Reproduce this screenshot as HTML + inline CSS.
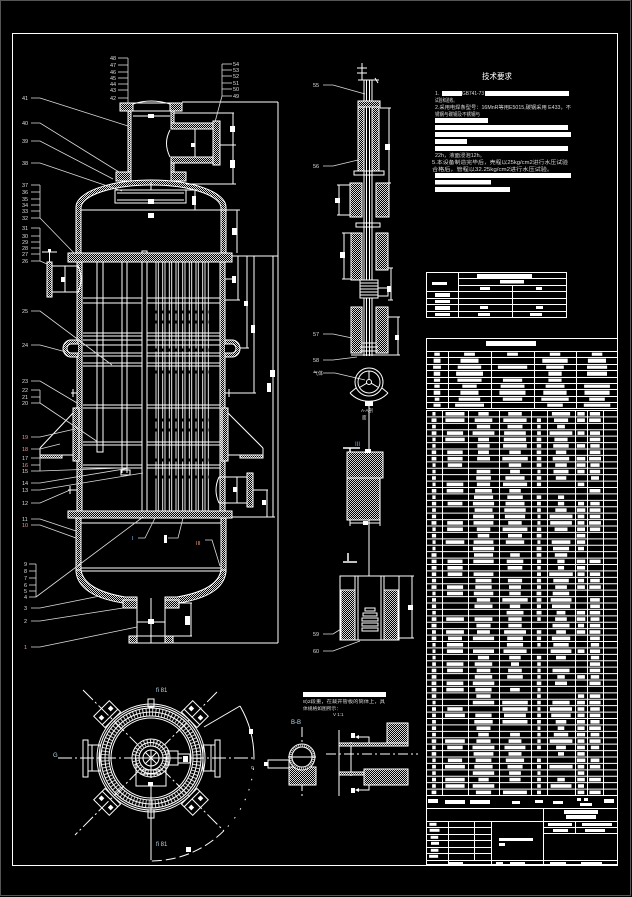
<!DOCTYPE html>
<html><head><meta charset="utf-8"><title>drawing</title>
<style>
html,body{margin:0;padding:0;background:#000;width:632px;height:897px;overflow:hidden}
svg{display:block}
text{font-family:"Liberation Sans","Noto Sans CJK SC",sans-serif}
</style></head><body>
<svg id="s" xmlns="http://www.w3.org/2000/svg" width="632" height="897" viewBox="0 0 632 897">
<defs>
<pattern id="h" width="2" height="2" patternUnits="userSpaceOnUse"><rect width="2" height="2" fill="#000"/><rect width="1" height="1" fill="#d8d8d8"/><rect x="1" y="1" width="1" height="1" fill="#d8d8d8"/></pattern>
</defs>
<rect width="632" height="897" fill="#000"/>
<rect x="0.5" y="0.5" width="630" height="895" fill="none" stroke="#555"/>
<rect x="12.5" y="33.5" width="605" height="832" fill="none" stroke="#fff"/>

<!-- ===== MAIN VESSEL ===== -->
<g fill="none" stroke="#fff" stroke-width="1">
<path d="M76 253 V207 A75 27 0 0 1 226 207 V253 H221 V208 A70 23 0 0 0 81 208 V253 Z" fill="url(#h)"/>
<rect x="120" y="103" width="62" height="8"/>
<rect x="120" y="103" width="13" height="8" fill="url(#h)"/>
<rect x="170" y="103" width="12" height="8" fill="url(#h)"/>
<path d="M133 104 Q151 98 170 104"/>
<line x1="133" y1="116" x2="170" y2="116"/>
<rect x="128" y="111" width="3" height="62" fill="url(#h)"/>
<rect x="171" y="111" width="3" height="12" fill="url(#h)"/>
<rect x="171" y="163" width="3" height="10" fill="url(#h)"/>
<rect x="171" y="123" width="42" height="6" fill="url(#h)"/>
<rect x="171" y="157" width="42" height="6" fill="url(#h)"/>
<rect x="213" y="121" width="7" height="44" fill="url(#h)"/>
<line x1="195" y1="129" x2="195" y2="157"/>
<path d="M170 130 Q163 143 170 157"/>
<line x1="174" y1="113" x2="234" y2="113"/>
<line x1="233" y1="113" x2="233" y2="184"/>
<line x1="220" y1="145" x2="236" y2="145"/>
<line x1="186" y1="184" x2="236" y2="184"/>
<rect x="116" y="172" width="15" height="9" fill="url(#h)"/>
<rect x="171" y="172" width="15" height="9" fill="url(#h)"/>
<rect x="115" y="190" width="71" height="13"/>
<line x1="117" y1="193" x2="184" y2="193"/>
<line x1="117" y1="200" x2="184" y2="200"/>
<line x1="151" y1="182" x2="151" y2="190"/>
<line x1="81" y1="210" x2="221" y2="210"/>
<line x1="195" y1="190" x2="195" y2="210"/>
<line x1="186" y1="190" x2="197" y2="190"/>
<line x1="237" y1="210" x2="237" y2="253"/>
<line x1="221" y1="210" x2="240" y2="210"/>
<line x1="182" y1="102" x2="278" y2="102"/>
<line x1="278" y1="102" x2="278" y2="643"/>
<line x1="173" y1="643" x2="278" y2="643"/>
<line x1="225" y1="256" x2="278" y2="256"/>
<line x1="273" y1="256" x2="273" y2="517"/>
<line x1="232" y1="517" x2="275" y2="517"/>
<line x1="254" y1="256" x2="254" y2="393"/>
<line x1="230" y1="393" x2="256" y2="393"/>
<line x1="247" y1="256" x2="247" y2="348"/>
<line x1="238" y1="348" x2="249" y2="348"/>
<line x1="238" y1="256" x2="238" y2="300"/>
<line x1="222" y1="300" x2="240" y2="300"/>
<line x1="122" y1="262" x2="122" y2="473"/>
<line x1="127" y1="262" x2="127" y2="473"/>
<rect x="121" y="470" width="9" height="5"/>
<rect x="97" y="262" width="6" height="190"/>
<g stroke-width="0.9">
<line x1="156" y1="262" x2="156" y2="511"/><line x1="158.3" y1="262" x2="158.3" y2="511"/>
<line x1="162.7" y1="262" x2="162.7" y2="511"/><line x1="165" y1="262" x2="165" y2="511"/>
<line x1="169.3" y1="262" x2="169.3" y2="511"/><line x1="171.7" y1="262" x2="171.7" y2="511"/>
<line x1="176" y1="262" x2="176" y2="511"/><line x1="178.3" y1="262" x2="178.3" y2="511"/>
<line x1="182.7" y1="262" x2="182.7" y2="511"/><line x1="185" y1="262" x2="185" y2="511"/>
<line x1="189.3" y1="262" x2="189.3" y2="511"/><line x1="191.7" y1="262" x2="191.7" y2="511"/>
<line x1="196" y1="262" x2="196" y2="511"/><line x1="198.3" y1="262" x2="198.3" y2="511"/>
<line x1="202.7" y1="262" x2="202.7" y2="511"/><line x1="205" y1="262" x2="205" y2="511"/>
<line x1="208.3" y1="262" x2="208.3" y2="511"/>
</g>
<g>
<line x1="83" y1="298" x2="220" y2="298"/><line x1="83" y1="303" x2="220" y2="303"/>
<line x1="83" y1="333" x2="220" y2="333"/><line x1="83" y1="336" x2="220" y2="336"/>
<line x1="83" y1="340" x2="220" y2="340"/><line x1="83" y1="345" x2="220" y2="345"/>
<line x1="83" y1="353" x2="220" y2="353"/><line x1="83" y1="356" x2="220" y2="356"/>
<line x1="83" y1="363" x2="220" y2="363"/><line x1="83" y1="366" x2="220" y2="366"/>
<line x1="83" y1="405" x2="220" y2="405"/><line x1="83" y1="408" x2="220" y2="408"/>
<line x1="83" y1="442" x2="220" y2="442"/><line x1="83" y1="445" x2="220" y2="445"/>
<line x1="83" y1="465" x2="220" y2="465"/><line x1="83" y1="468" x2="220" y2="468"/>
</g>
<g stroke="#000" stroke-width="3" stroke-dasharray="2 4.67">
<line x1="155" y1="312" x2="210" y2="312"/><line x1="155" y1="322" x2="210" y2="322"/>
<line x1="155" y1="350" x2="210" y2="350"/><line x1="155" y1="372" x2="210" y2="372"/>
<line x1="155" y1="420" x2="210" y2="420"/><line x1="155" y1="430" x2="210" y2="430"/>
<line x1="155" y1="460" x2="210" y2="460"/><line x1="155" y1="477" x2="210" y2="477"/>
</g>
<rect x="142" y="251" width="5" height="266" fill="#000"/>
<rect x="68" y="253" width="164" height="9" fill="url(#h)"/>
<rect x="77" y="262" width="5" height="249" fill="url(#h)"/>
<rect x="220" y="262" width="5" height="249" fill="url(#h)"/>
<path d="M78 340 H71 A8 8.5 0 0 0 71 357 H78 Z" fill="url(#h)"/>
<path d="M78 344 H71 A4 4.5 0 0 0 71 353 H78" fill="#000"/>
<path d="M225 340 H232 A8 8.5 0 0 1 232 357 H225 Z" fill="url(#h)"/>
<path d="M225 344 H232 A4 4.5 0 0 1 232 353 H225" fill="#000"/>
<rect x="68" y="511" width="164" height="7" fill="url(#h)"/>
<rect x="73" y="408" width="6" height="53" fill="url(#h)"/>
<rect x="40" y="455" width="22" height="3" fill="url(#h)"/>
<line x1="62" y1="455" x2="73" y2="455"/>
<line x1="40" y1="448" x2="73" y2="413"/>
<line x1="40" y1="448" x2="40" y2="455"/>
<rect x="222" y="408" width="6" height="53" fill="url(#h)"/>
<rect x="240" y="455" width="23" height="3" fill="url(#h)"/>
<line x1="228" y1="455" x2="240" y2="455"/>
<line x1="228" y1="413" x2="263" y2="448"/>
<line x1="263" y1="448" x2="263" y2="455"/>
<path d="M219 477 Q213 490 219 503"/>
<line x1="219" y1="477" x2="247" y2="477"/><line x1="219" y1="503" x2="247" y2="503"/>
<line x1="237" y1="477" x2="237" y2="503"/>
<rect x="247" y="473" width="6" height="34" fill="url(#h)"/>
<line x1="253" y1="490" x2="268" y2="490"/>
<line x1="267" y1="490" x2="267" y2="517"/>
<rect x="47" y="262" width="5" height="35" fill="url(#h)"/>
<line x1="42" y1="252" x2="57" y2="252"/>
<line x1="49.5" y1="249" x2="49.5" y2="262"/>
<line x1="52" y1="266" x2="79" y2="266"/><line x1="52" y1="292" x2="79" y2="292"/>
<path d="M78 266 Q84 279 78 292"/>
<line x1="65" y1="266" x2="65" y2="292"/>
<line x1="225" y1="279" x2="232" y2="279"/>
<line x1="225" y1="393" x2="230" y2="393"/><line x1="229" y1="389" x2="229" y2="397"/>
<line x1="71" y1="393" x2="77" y2="393"/><line x1="73" y1="389" x2="73" y2="397"/>
<line x1="68" y1="490" x2="77" y2="490"/><line x1="70" y1="486" x2="70" y2="494"/>
<rect x="76" y="518" width="5" height="52" fill="url(#h)"/>
<rect x="221" y="518" width="5" height="52" fill="url(#h)"/>
<path d="M76 570 H81 Q84 590 125 597 L137 597 V603 L123 603 Q79 596 76 572 Z" fill="url(#h)"/>
<path d="M226 570 H221 Q218 590 177 597 L165 597 V603 L179 603 Q223 596 226 572 Z" fill="url(#h)"/>
<rect x="123" y="600" width="14" height="8" fill="url(#h)"/>
<rect x="165" y="600" width="14" height="8" fill="url(#h)"/>
<line x1="81" y1="523" x2="221" y2="523"/>
<line x1="81" y1="568" x2="221" y2="568"/>
<line x1="81" y1="571" x2="221" y2="571"/>
<line x1="137" y1="603" x2="137" y2="636"/>
<line x1="165" y1="603" x2="165" y2="636"/>
<line x1="151" y1="598" x2="151" y2="643"/>
<line x1="137" y1="622" x2="165" y2="622"/>
<rect x="129" y="636" width="44" height="7"/>
<rect x="129" y="636" width="8" height="7" fill="url(#h)"/>
<rect x="165" y="636" width="8" height="7" fill="url(#h)"/>
<line x1="179" y1="603" x2="192" y2="603"/>
<line x1="191" y1="603" x2="191" y2="636"/>
<line x1="165" y1="636" x2="192" y2="636"/>
</g>
<g fill="#fff">
<rect x="148" y="114" width="6" height="4"/><rect x="230" y="126" width="5" height="6"/><rect x="230" y="160" width="5" height="8"/>
<rect x="192" y="196" width="4" height="9"/><rect x="148" y="213" width="6" height="5"/><rect x="148" y="199" width="6" height="5"/>
<rect x="232" y="228" width="5" height="7"/><rect x="232" y="276" width="4" height="7"/><rect x="191" y="143" width="4" height="4"/>
<rect x="61" y="277" width="4" height="5"/><rect x="270" y="370" width="5" height="7"/><rect x="267" y="383" width="4" height="9"/>
<rect x="251" y="325" width="4" height="8"/><rect x="244" y="301" width="4" height="5"/><rect x="233" y="487" width="4" height="5"/>
<rect x="262" y="500" width="4" height="5"/><rect x="148" y="619" width="6" height="5"/><rect x="185" y="616" width="5" height="9"/>
<rect x="164" y="535" width="3" height="8"/><rect x="48" y="249" width="3" height="3"/>
</g>
<g stroke="#ddd" stroke-width="0.8" fill="none">
<line x1="118" y1="58" x2="128" y2="58"/><line x1="118" y1="65" x2="128" y2="65"/><line x1="118" y1="72" x2="128" y2="72"/><line x1="118" y1="78" x2="128" y2="78"/><line x1="118" y1="84" x2="128" y2="84"/><line x1="118" y1="90" x2="128" y2="90"/><line x1="118" y1="98" x2="128" y2="98"/><line x1="128" y1="58" x2="128" y2="103"/>
<line x1="222" y1="64" x2="232" y2="64"/><line x1="222" y1="70" x2="232" y2="70"/><line x1="222" y1="76" x2="232" y2="76"/><line x1="222" y1="83" x2="232" y2="83"/><line x1="222" y1="89" x2="232" y2="89"/><line x1="222" y1="96" x2="232" y2="96"/><line x1="222" y1="64" x2="222" y2="96"/><line x1="222" y1="96" x2="215" y2="122"/>
<polyline points="31,98 40,98 128,126"/>
<polyline points="31,123 40,123 119,172"/>
<polyline points="31,141 40,141 113,179"/>
<polyline points="31,163 40,163 122,191"/>
<line x1="31" y1="185" x2="40" y2="185"/><line x1="31" y1="192" x2="40" y2="192"/><line x1="31" y1="199" x2="40" y2="199"/><line x1="31" y1="205" x2="40" y2="205"/><line x1="31" y1="211" x2="40" y2="211"/><line x1="31" y1="218" x2="40" y2="218"/><line x1="40" y1="185" x2="40" y2="218"/><line x1="40" y1="218" x2="74" y2="253"/>
<line x1="31" y1="228" x2="40" y2="228"/><line x1="31" y1="236" x2="40" y2="236"/><line x1="31" y1="242" x2="40" y2="242"/><line x1="31" y1="248" x2="40" y2="248"/><line x1="31" y1="254" x2="40" y2="254"/><line x1="31" y1="261" x2="40" y2="261"/><line x1="40" y1="228" x2="40" y2="261"/><line x1="40" y1="261" x2="47" y2="264"/>
<polyline points="31,311 40,311 112,365"/>
<polyline points="31,345 40,345 66,352"/>
<polyline points="31,381 40,381 77,403"/>
<line x1="31" y1="390" x2="40" y2="390"/><line x1="31" y1="397" x2="40" y2="397"/><line x1="31" y1="403" x2="40" y2="403"/><line x1="40" y1="390" x2="40" y2="403"/><line x1="40" y1="403" x2="98" y2="442"/>
<polyline points="31,437 40,437 75,429"/>
<polyline points="31,449 40,449 60,444"/>
<line x1="31" y1="458" x2="40" y2="458"/><line x1="31" y1="465" x2="40" y2="465"/><line x1="31" y1="471" x2="40" y2="471"/><line x1="40" y1="455" x2="40" y2="471"/><line x1="40" y1="471" x2="122" y2="468"/>
<polyline points="31,483 40,483 130,468"/>
<polyline points="31,490 40,490 143,473"/>
<polyline points="31,503 40,503 70,490"/>
<polyline points="31,519 40,519 76,531"/>
<polyline points="31,525 40,525 76,538"/>
<line x1="29" y1="564" x2="36" y2="564"/><line x1="29" y1="571" x2="36" y2="571"/><line x1="29" y1="578" x2="36" y2="578"/><line x1="29" y1="585" x2="36" y2="585"/><line x1="29" y1="591" x2="36" y2="591"/><line x1="29" y1="597" x2="36" y2="597"/><line x1="36" y1="564" x2="36" y2="597"/><line x1="36" y1="597" x2="143" y2="517"/>
<polyline points="31,608 40,608 100,596"/>
<polyline points="31,621 40,621 123,608"/>
<polyline points="31,647 40,647 137,627"/>
<polyline points="138,538 145,538 155,518"/>
<polyline points="168,538 178,538 183,518"/>
<polyline points="205,540 212,540 220,566"/>
<polyline points="323,85 333,85 365,94"/>
<polyline points="323,166 333,166 358,160"/>
<polyline points="323,334 333,334 352,338"/>
<polyline points="323,360 333,360 357,357"/>
<polyline points="323,373 335,373 365,380"/>
<polyline points="323,634 333,634 341,629"/>
<polyline points="323,651 333,651 360,641"/>
</g>
<g fill="#ddd" font-size="5.5">
<text x="110" y="60">48</text><text x="110" y="67">47</text><text x="110" y="74">46</text><text x="110" y="80">45</text><text x="110" y="86">44</text><text x="110" y="92">43</text><text x="110" y="100">42</text>
<text x="233" y="66">54</text><text x="233" y="72">53</text><text x="233" y="78">52</text><text x="233" y="85">51</text><text x="233" y="91">50</text><text x="233" y="98">49</text>
<text x="22" y="100">41</text><text x="22" y="125">40</text><text x="22" y="143">39</text><text x="22" y="165">38</text>
<text x="22" y="187">37</text><text x="22" y="194">36</text><text x="22" y="201">35</text><text x="22" y="207">34</text><text x="22" y="213">33</text><text x="22" y="220">32</text>
<text x="22" y="230">31</text><text x="22" y="238">30</text><text x="22" y="244">29</text><text x="22" y="250">28</text><text x="22" y="256">27</text><text x="22" y="263">26</text>
<text x="22" y="313">25</text><text x="22" y="347">24</text><text x="22" y="383">23</text><text x="22" y="392">22</text><text x="22" y="399">21</text><text x="22" y="405">20</text>
<text x="22" y="439" fill="#e99">19</text><text x="22" y="451" fill="#e99">18</text><text x="22" y="460">17</text><text x="22" y="467" fill="#e99">16</text><text x="22" y="473">15</text>
<text x="22" y="485">14</text><text x="22" y="492">13</text><text x="22" y="505">12</text><text x="22" y="521">11</text><text x="22" y="527" fill="#e99">10</text>
<text x="24" y="566">9</text><text x="24" y="573">8</text><text x="24" y="580">7</text><text x="24" y="587">6</text><text x="24" y="593">5</text><text x="24" y="599">4</text>
<text x="24" y="610">3</text><text x="24" y="623">2</text><text x="24" y="649" fill="#e99">1</text>
<text x="132" y="540" fill="#8cf">I</text><text x="196" y="545" fill="#e97">III</text>
<text x="313" y="87">55</text><text x="313" y="168">56</text><text x="313" y="336">57</text><text x="313" y="362">58</text>
<text x="313" y="375" font-size="5">气体</text><text x="313" y="636">59</text><text x="313" y="653">60</text>
</g>

<!-- ===== CENTER COLUMN ===== -->
<g fill="none" stroke="#fff" stroke-width="1">
<line x1="362" y1="63" x2="362" y2="80"/>
<line x1="357" y1="68" x2="367" y2="68"/><line x1="357" y1="73" x2="367" y2="73"/>
<line x1="358" y1="80" x2="379" y2="80"/><line x1="375" y1="78" x2="378" y2="83"/>
<line x1="364" y1="80" x2="364" y2="356"/><line x1="366.5" y1="80" x2="366.5" y2="356"/>
<line x1="369.5" y1="80" x2="369.5" y2="356"/><line x1="372" y1="80" x2="372" y2="356"/>
<rect x="358" y="101" width="22" height="6" fill="url(#h)"/>
<rect x="358" y="107" width="6" height="64" fill="url(#h)"/>
<rect x="372" y="107" width="7" height="64" fill="url(#h)"/>
<rect x="354" y="171" width="30" height="4"/>
<line x1="380" y1="108" x2="391" y2="108"/><line x1="389" y1="108" x2="389" y2="183"/><line x1="384" y1="183" x2="391" y2="183"/>
<rect x="350" y="183" width="12" height="34" fill="url(#h)"/>
<rect x="376" y="183" width="13" height="34" fill="url(#h)"/>
<line x1="339" y1="185" x2="339" y2="215"/><line x1="337" y1="185" x2="350" y2="185"/><line x1="337" y1="215" x2="350" y2="215"/>
<rect x="356" y="223" width="24" height="4"/>
<rect x="351" y="233" width="11" height="47" fill="url(#h)"/>
<rect x="376" y="233" width="12" height="37" fill="url(#h)"/>
<line x1="344" y1="233" x2="344" y2="279"/><line x1="342" y1="233" x2="351" y2="233"/><line x1="342" y1="279" x2="351" y2="279"/>
<rect x="360" y="280" width="18" height="18" fill="#000"/>
<path d="M360 283H378M360 286H378M360 289H378M360 292H378M360 295H378"/>
<rect x="378" y="288" width="10" height="8"/>
<line x1="391" y1="268" x2="391" y2="300"/><line x1="388" y1="268" x2="393" y2="268"/><line x1="388" y1="300" x2="393" y2="300"/>
<rect x="351" y="307" width="11" height="46" fill="url(#h)"/>
<rect x="376" y="307" width="12" height="46" fill="url(#h)"/>
<line x1="398" y1="317" x2="398" y2="355"/><line x1="388" y1="317" x2="400" y2="317"/><line x1="388" y1="355" x2="400" y2="355"/>
<path d="M362 343H376M360 347H378M360 351H378"/>
<line x1="351" y1="355" x2="388" y2="355"/>
<circle cx="369" cy="382" r="14"/><circle cx="369" cy="382" r="11"/><circle cx="369" cy="382" r="2.5"/>
<path d="M369 379.5V371M366.8 383.2L359.5 387.5M371.2 383.2L378.5 387.5"/>
<path d="M350 393L356 388M388 393L382 388M350 393A26 26 0 0 0 388 393"/>
<line x1="369" y1="406" x2="369" y2="452"/>
<path d="M343 448H360M350 448V454" stroke-width="1.5"/>
<rect x="347" y="452" width="36" height="26" fill="url(#h)"/>
<rect x="347" y="478" width="33" height="42" fill="url(#h)"/>
<path d="M350 523H380M350 520V526M380 520V526"/>
<line x1="369" y1="520" x2="369" y2="576"/>
<path d="M348 553V561M343 562H357" stroke-width="1.5"/>
<rect x="340" y="576" width="59" height="64"/>
<path d="M355 576V640M358 576V640M381 576V640M384 576V640M340 590H355M384 590H399"/>
<rect x="341" y="590" width="14" height="50" fill="url(#h)"/>
<rect x="384" y="590" width="14" height="50" fill="url(#h)"/>
<rect x="365" y="608" width="10" height="3"/><rect x="363" y="613" width="14" height="3"/>
<rect x="362" y="618" width="16" height="3"/><rect x="362" y="623" width="16" height="3"/><rect x="362" y="628" width="16" height="3"/>
<path d="M412 576V638M399 576H414M399 638H414"/>
</g>
<g fill="#fff">
<rect x="385" y="144" width="5" height="6"/><rect x="335" y="198" width="5" height="5"/><rect x="340" y="252" width="5" height="6"/>
<rect x="387" y="286" width="4" height="6"/><rect x="395" y="335" width="4" height="5"/><rect x="365" y="401" width="8" height="5"/>
<rect x="363" y="521" width="5" height="4"/><rect x="408" y="605" width="5" height="5"/><rect x="365" y="449" width="6" height="4"/>
</g>
<g fill="#ddd" font-size="4.5"><text x="361" y="412">A-A剖</text><text x="362" y="419">面</text></g>
<text x="355" y="446" fill="#7af" font-size="6">III</text>

<!-- ===== TECH TEXT ===== -->
<text x="482" y="79" fill="#fff" font-size="8" textLength="30" lengthAdjust="spacingAndGlyphs">技术要求</text>
<g fill="#ddd" font-size="5">
<text x="435" y="95">1.</text>
<text x="462" y="95" textLength="22" lengthAdjust="spacingAndGlyphs">GB741-73</text>
<text x="435" y="102" textLength="22" lengthAdjust="spacingAndGlyphs">试验和验收。</text>
<text x="435" y="109" textLength="136" lengthAdjust="spacingAndGlyphs">2.采用电焊条型号：16MnR等用E5015,碳钢采用 E433，不</text>
<text x="435" y="116" textLength="45" lengthAdjust="spacingAndGlyphs">锈钢与碳钢及不锈钢与</text>
<text x="435" y="157" textLength="50" lengthAdjust="spacingAndGlyphs">22h，液面浸泡12h。</text>
<text x="432" y="164" textLength="136" lengthAdjust="spacingAndGlyphs">5.本设备制造完毕后，壳程以25kg/cm2进行水压试验</text>
<text x="432" y="171" textLength="121" lengthAdjust="spacingAndGlyphs">合格后，管程以32.25kg/cm2进行水压试验。</text>
</g>
<g fill="#fff">
<rect x="442" y="91" width="20" height="5"/><rect x="485" y="91" width="84" height="5"/>
<rect x="435" y="118" width="53" height="5"/><rect x="435" y="125" width="133" height="5"/>
<rect x="435" y="132" width="136" height="5"/><rect x="435" y="139" width="32" height="5"/>
<rect x="435" y="146" width="133" height="5"/><rect x="435" y="173" width="136" height="5"/>
<rect x="435" y="180" width="56" height="4.5"/><rect x="435" y="187" width="75" height="5"/>
</g>

<g fill="none" stroke="#fff">
<rect x="426.5" y="272.5" width="140" height="45"/>
<path d="M458.5 272V317M426 291.5H566M426 298.5H566M426 304.5H566M426 311.5H566M458 278.5H566M458 285.5H566M512.5 285V317"/>
</g>
<g fill="#fff">
<rect x="477" y="274" width="55" height="4"/><rect x="500" y="280" width="24" height="3.5"/>
<rect x="480" y="287" width="10" height="3"/><rect x="536" y="287" width="6" height="3"/>
<rect x="432" y="282" width="15" height="3"/><rect x="435" y="293" width="15" height="4"/>
<rect x="435" y="300" width="15" height="3"/><rect x="435" y="306" width="15" height="4"/><rect x="435" y="313" width="15" height="3"/>
<rect x="480" y="306" width="8" height="3"/><rect x="536" y="306" width="7" height="3"/>
<rect x="478" y="313" width="12" height="3"/><rect x="530" y="313" width="12" height="3"/>
</g>

<!-- ===== PLAN VIEW ===== -->
<g fill="none" stroke="#fff">
<line x1="58" y1="758" x2="256" y2="758" stroke-dasharray="14 3 2 3"/>
<line x1="83" y1="690" x2="224" y2="831" stroke-dasharray="14 3 2 3"/>
<line x1="217" y1="692" x2="75" y2="835" stroke-dasharray="14 3 2 3"/>
<line x1="151" y1="786" x2="151" y2="860"/>
<circle cx="151" cy="758" r="54"/><circle cx="151" cy="758" r="52"/>
<circle cx="151" cy="758" r="46" stroke-width="8" stroke-dasharray="1 2.2" stroke="#ccc"/>
<circle cx="151" cy="758" r="50"/><circle cx="151" cy="758" r="42"/><circle cx="151" cy="758" r="46"/>
<circle cx="151" cy="758" r="40"/>
<circle cx="151" cy="758" r="19" fill="#000"/>
<circle cx="151" cy="758" r="15.5" stroke-width="7" stroke-dasharray="1 2" stroke="#ccc"/>
<circle cx="151" cy="758" r="12"/><circle cx="151" cy="758" r="15.5"/><circle cx="151" cy="758" r="8"/>
<path d="M143 758H159M151 750V766M145 752L157 764M157 752L145 764"/>
<rect x="136" y="758" width="30" height="28"/>
<path d="M140 770H162M140 774H162M151 766V778"/>
<rect x="168" y="751" width="10" height="14"/><rect x="178" y="754" width="12" height="9"/>
<rect x="88" y="745" width="12" height="26"/><rect x="83" y="740" width="5" height="37"/>
<line x1="92" y1="745" x2="92" y2="771"/>
<rect x="203" y="745" width="12" height="26"/><rect x="215" y="740" width="5" height="37"/>
<line x1="211" y1="745" x2="211" y2="771"/>
<rect x="148" y="699" width="6" height="8"/><rect x="148" y="810" width="6" height="8"/>
<g transform="translate(151 758) rotate(45)"><rect x="54" y="-11" width="16" height="22"/><line x1="58" y1="-11" x2="58" y2="11"/><rect x="62" y="-8" width="3" height="3" fill="#fff"/><rect x="62" y="5" width="3" height="3" fill="#fff"/></g>
<g transform="translate(151 758) rotate(135)"><rect x="54" y="-11" width="16" height="22"/><line x1="58" y1="-11" x2="58" y2="11"/><rect x="62" y="-8" width="3" height="3" fill="#fff"/><rect x="62" y="5" width="3" height="3" fill="#fff"/></g>
<g transform="translate(151 758) rotate(225)"><rect x="54" y="-11" width="16" height="22"/><line x1="58" y1="-11" x2="58" y2="11"/><rect x="62" y="-8" width="3" height="3" fill="#fff"/><rect x="62" y="5" width="3" height="3" fill="#fff"/></g>
<g transform="translate(151 758) rotate(315)"><rect x="54" y="-11" width="16" height="22"/><line x1="58" y1="-11" x2="58" y2="11"/><rect x="62" y="-8" width="3" height="3" fill="#fff"/><rect x="62" y="5" width="3" height="3" fill="#fff"/></g>
<line x1="204" y1="727" x2="240" y2="706"/>
<path d="M240 706A103 103 0 0 1 254 758"/>
<path d="M254 758A103 103 0 0 1 223.8 830.8" stroke-dasharray="1.5 9"/>
<path d="M223.8 830.8A103 103 0 0 1 151 861" stroke-dasharray="10 4"/>
</g>
<g fill="#fff"><rect x="249" y="729" width="4" height="5"/><rect x="186" y="847" width="5" height="5"/><rect x="183" y="756" width="5" height="6"/><rect x="148" y="782" width="5" height="4"/></g>
<g fill="#bde" font-size="6"><text x="156" y="692">fi 81</text><text x="156" y="846">fi 81</text><text x="53" y="757">G</text><text x="251" y="769" font-size="5">o</text></g>

<!-- ===== B-B & detail ===== -->
<text x="291" y="724" fill="#bde" font-size="6">B-B</text>
<g fill="none" stroke="#fff">
<line x1="302" y1="727" x2="302" y2="796" stroke-dasharray="10 3 2 3"/>
<rect x="289" y="767" width="27" height="18" fill="url(#h)"/>
<circle cx="302" cy="757" r="13" fill="#000"/>
<circle cx="302" cy="757" r="11.5" stroke="#bbb" stroke-width="2.5" stroke-dasharray="1 1"/>
<circle cx="302" cy="757" r="10"/>
<line x1="288" y1="757" x2="316" y2="757"/>
<rect x="268" y="760" width="21" height="8"/>
<line x1="339" y1="730" x2="339" y2="796"/>
<line x1="351" y1="742" x2="351" y2="776"/>
<rect x="387" y="723" width="21" height="20" fill="url(#h)"/>
<rect x="339" y="743" width="69" height="3" fill="url(#h)"/>
<rect x="364" y="769" width="44" height="16" fill="url(#h)"/>
<rect x="339" y="772" width="25" height="3" fill="url(#h)"/>
<line x1="326" y1="754" x2="418" y2="754" stroke-dasharray="10 3 2 3"/>
<polyline points="358,737 369,737 369,743"/>
<polyline points="358,790 369,790 369,785"/>
</g>
<g fill="#fff">
<rect x="264" y="762" width="4" height="4"/>
<rect x="351" y="733" width="4" height="5"/><rect x="351" y="788" width="4" height="5"/>
<path d="M355 737L359 735V739Z"/><path d="M355 790L359 788V792Z"/>
<rect x="303" y="692" width="83" height="5"/>
</g>
<g fill="#ddd" font-size="4.5">
<text x="303" y="703" textLength="82" lengthAdjust="spacingAndGlyphs">8)2段重，在裁开管板的筒体上，具</text>
<text x="303" y="710" textLength="38" lengthAdjust="spacingAndGlyphs">体规格如图所示：</text>
<text x="333" y="716">V 1:1</text>
</g>

<g fill="none" stroke="#fff">
<rect x="426.5" y="338.5" width="191" height="70"/>
<rect x="426.5" y="410.5" width="191" height="385"/>
<rect x="426.5" y="795.5" width="191" height="69"/>
<path d="M426 808.5H618M426 821.5H618M543.5 808V865M426 860.5H618M491.5 821V865M448.5 821V865M474.5 821V860M543 827.5H618M543 833.5H618M575.5 821V833M426 827.5H491M426 834.5H491M426 840.5H491M426 847.5H491M426 853.5H491"/>
</g>
<g fill="#fff">
<rect x="499" y="838" width="34" height="3"/><rect x="499" y="843" width="6" height="3"/>
<rect x="564" y="810" width="34" height="4"/><rect x="566" y="815" width="30" height="4"/>
<rect x="548" y="823" width="24" height="3"/><rect x="582" y="823" width="30" height="3"/>
<rect x="553" y="829" width="15" height="3"/><rect x="585" y="829" width="20" height="3"/>
<rect x="448" y="862" width="15" height="3"/><rect x="496" y="862" width="7" height="3"/><rect x="510" y="862" width="15" height="3"/><rect x="550" y="862" width="16" height="3"/><rect x="581" y="862" width="21" height="3"/>
<rect x="428" y="799" width="10" height="4"/><rect x="445" y="800" width="20" height="4"/><rect x="470" y="800" width="20" height="4"/><rect x="512" y="801" width="8" height="3"/><rect x="535" y="800" width="8" height="3"/><rect x="553" y="801" width="10" height="3"/><rect x="577" y="798" width="4" height="3"/><rect x="584" y="798" width="4" height="3"/><rect x="580" y="803" width="12" height="3"/><rect x="604" y="799" width="10" height="4"/>
<rect x="486" y="341" width="50" height="5"/>
</g>
<g id="tb"></g>
</svg>
<script>
(function(){
var g=document.getElementById('tb'),NS='http://www.w3.org/2000/svg';
var seed=11;function r(){seed=(seed*9301+49297)%233280;return seed/233280;}
function el(n,a){var e=document.createElementNS(NS,n);for(var k in a)e.setAttribute(k,a[k]);g.appendChild(e);return e;}
function ln(x1,y1,x2,y2){el('line',{x1:x1,y1:y1,x2:x2,y2:y2,stroke:'#fff','stroke-width':1});}
function bar(x,y,w,h){el('rect',{x:x.toFixed(1),y:y.toFixed(1),width:w.toFixed(1),height:h,fill:'#fff'});}
var i,j;
var cu=[426,448,491,534,576,618],ru=[351,357,364,370,377,383,389,396,402,408];
for(i=0;i<ru.length-1;i++)ln(426,ru[i]+.5,618,ru[i]+.5);
for(j=1;j<cu.length-1;j++)ln(cu[j]+.5,351,cu[j]+.5,408);
for(i=0;i<ru.length-1;i++){var y=ru[i]+1.6,h=ru[i+1]-ru[i]-2.8;
 for(j=0;j<cu.length-1;j++){var cw=cu[j+1]-cu[j];var w;
  if(i==0){w=cw*0.25;}else if(j==0){w=3+r()*6;}else{if(r()<0.15)continue;w=cw*(0.3+r()*0.4);}
  bar(cu[j]+(cw-w)/2,y,w,h);}}
var c=[426,442,468,499,531,547,575,587,603,618];
var N=60,top=410.5,rh=385/N;
for(j=1;j<c.length-1;j++)ln(c[j]+.5,410,c[j]+.5,795);
for(i=1;i<N;i++)ln(426,top+i*rh,618,top+i*rh);
var spec=[[3,5,1],[14,20,.55],[10,22,.9],[8,26,.85],[3,5,.95],[6,24,.9],[6,9,.75],[8,12,.8]];
for(i=0;i<N;i++){var y=top+i*rh+1.5;
 for(j=0;j<8;j++){var s=spec[j];if(r()>s[2])continue;var w=s[0]+r()*(s[1]-s[0]);var cw=c[j+1]-c[j];
  bar(c[j]+(cw-w)/2,y,w,3.6);}}
var rows=[821,827,834,840,847,853];
for(i=0;i<rows.length;i++){bar(428+r()*3,rows[i]+1.8,7+r()*5,3);}
})();
</script>
</body></html>
